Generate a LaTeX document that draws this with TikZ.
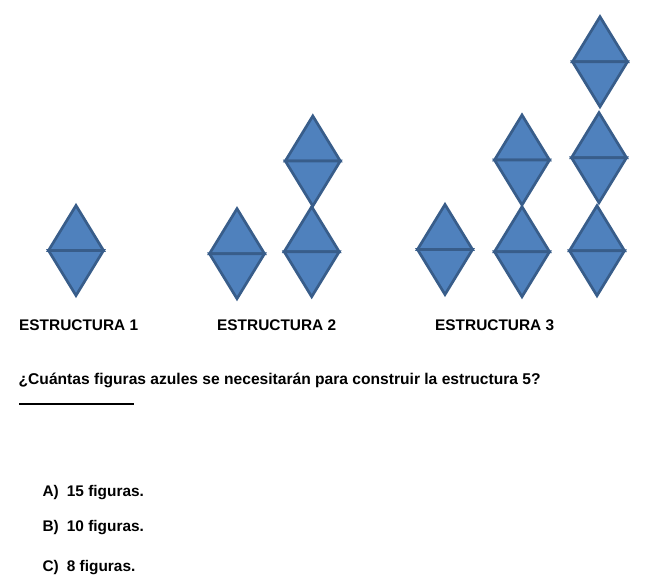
\documentclass[tikz,border=0pt]{standalone}
\usepackage{fontspec}
\setmainfont{Liberation Sans}
\definecolor{figblue}{HTML}{4F81BD}
\definecolor{figedge}{HTML}{385D8A}
\tikzset{
  tri/.style={fill=figblue, draw=figedge, line width=2.7pt, line join=miter},
  rhomb/.pic={
    \path[tri] (-27.5,0) -- (0,-45) -- (27.5,0) -- cycle;
    \path[tri] (-27.5,0) -- (0,45) -- (27.5,0) -- cycle;
  },
  lbl/.style={anchor=base west, inner sep=0pt, font=\bfseries\fontsize{15.4}{18}\selectfont}
}
\begin{document}
\begin{tikzpicture}[x=1pt,y=-1pt]
\useasboundingbox[fill=white] (0,0) rectangle (661,585);
% structure 1
\pic at (76,250.5) {rhomb};
% structure 2
\pic at (237,253.7) {rhomb};
\pic at (311.7,251.7) {rhomb};
\pic at (312.8,161) {rhomb};
% structure 3
\pic at (445,249.5) {rhomb};
\pic at (522,251.7) {rhomb};
\pic at (522,160) {rhomb};
\pic at (597,250.7) {rhomb};
\pic at (599,157.7) {rhomb};
\pic at (600,61.7) {rhomb};
% labels
\node[lbl] (e1) at (19,330.3) {ESTRUCTURA 1};
\node[lbl] (e2) at (217,330.3) {ESTRUCTURA 2};
\node[lbl] (e3) at (435,330.3) {ESTRUCTURA 3};
\node[lbl, font=\bfseries\fontsize{15.6}{18}\selectfont] (q) at (18.5,384) {¿Cuántas figuras azules se necesitarán para construir la estructura 5?};
\coordinate (u1) at (19,404);
\coordinate (u2) at (133.5,404);
\draw[line width=1.6pt] (u1) -- (u2);
\node[lbl] (a) at (42.3,496) {\makebox[24.4pt][l]{A)}15 figuras.};
\node[lbl] (b) at (42.3,531) {\makebox[24.4pt][l]{B)}10 figuras.};
\node[lbl] (c) at (42.3,571.7) {\makebox[24.4pt][l]{C)}8 figuras.};
\end{tikzpicture}
\end{document}
